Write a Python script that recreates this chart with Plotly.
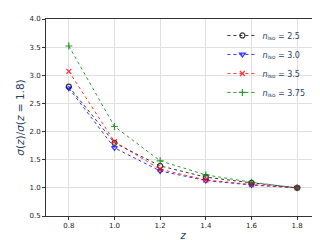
import plotly.graph_objects as go

z = [0.8, 1.0, 1.2, 1.4, 1.6, 1.8]
n_iso_labels = ["2.5", "3.0", "3.5", "3.75"]
ratio_25 = [2.80, 1.80, 1.39, 1.19, 1.09, 1.00]
ratio_30 = [2.77, 1.71, 1.30, 1.13, 1.05, 1.00]
ratio_35 = [3.07, 1.82, 1.33, 1.14, 1.06, 1.00]
ratio_375 = [3.52, 2.09, 1.48, 1.23, 1.10, 1.00]

series = [ratio_25, ratio_30, ratio_35, ratio_375]
colors = ["black", "blue", "red", "green"]
symbols = ["circle-open", "triangle-down-open", "x-thin-open", "cross-thin-open"]

fig = go.Figure()
for vals, lab, c, s in zip(series, n_iso_labels, colors, symbols):
    fig.add_trace(go.Scatter(
        x=z, y=vals, mode="lines+markers",
        name=f"<i>n</i><sub>iso</sub> = {lab}",
        line=dict(color=c, width=1, dash="dot"),
        marker=dict(symbol=s, size=5, color=c, line=dict(color=c, width=1.2)),
        opacity=0.8,
    ))

axis_common = dict(showline=True, linecolor="#333", linewidth=1, mirror=True,
                   showgrid=True, gridcolor="#e0e0e0", gridwidth=1, zeroline=False,
                   ticks="outside", ticklen=3, tickcolor="#333",
                   tickfont=dict(size=7, family="DejaVu Sans", color="#222"))
fig.update_xaxes(range=[0.7, 1.9], tickvals=z, ticktext=["0.8", "1.0", "1.2", "1.4", "1.6", "1.8"],
                 title=dict(text="<i>z</i>", font=dict(size=10, family="DejaVu Sans"), standoff=2),
                 **axis_common)
fig.update_yaxes(range=[0.5, 4.0], dtick=0.5, tickformat=".1f",
                 title=dict(text="<i>σ</i>(<i>z</i>)/<i>σ</i>(<i>z</i> = 1.8)",
                            font=dict(size=10.5, family="DejaVu Sans"), standoff=2),
                 **axis_common)
fig.update_layout(
    width=320, height=240,
    margin=dict(l=38, r=8, t=11, b=32),
    plot_bgcolor="white", paper_bgcolor="white",
    legend=dict(x=0.965, y=0.99, xanchor="right", yanchor="top",
                bgcolor="rgba(255,255,255,0)", font=dict(size=8, family="DejaVu Sans"),
                itemwidth=30, tracegroupgap=0),
)
fig.write_html("out.html")
